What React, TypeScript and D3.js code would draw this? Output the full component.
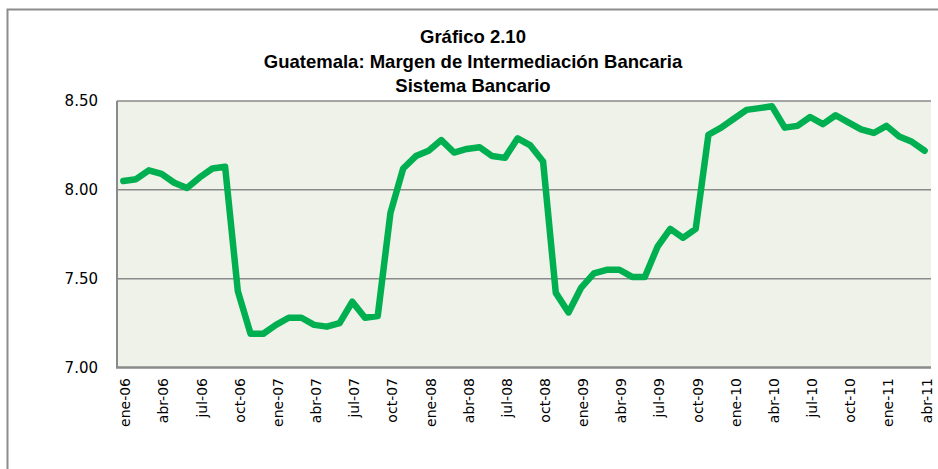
import * as d3 from "d3";

const months = ["ene", "feb", "mar", "abr", "may", "jun", "jul", "ago", "sep", "oct", "nov", "dic"];
const years = ["06", "07", "08", "09", "10", "11"];

// 64 months, ene-06 .. abr-11
const categories: string[] = years
  .flatMap((y) => months.map((m) => `${m}-${y}`))
  .slice(0, 64);

const values = [
  8.05, 8.06, 8.11, 8.09, 8.04, 8.01, 8.07, 8.12, 8.13, 7.43, 7.19, 7.19,
  7.24, 7.28, 7.28, 7.24, 7.23, 7.25, 7.37, 7.28, 7.29, 7.87, 8.12, 8.19,
  8.22, 8.28, 8.21, 8.23, 8.24, 8.19, 8.18, 8.29, 8.25, 8.16, 7.42, 7.31,
  7.45, 7.53, 7.55, 7.55, 7.51, 7.51, 7.68, 7.78, 7.73, 7.78, 8.31, 8.35,
  8.40, 8.45, 8.46, 8.47, 8.35, 8.36, 8.41, 8.37, 8.42, 8.38, 8.34, 8.32,
  8.36, 8.30, 8.27, 8.22,
];

const yTicks = [7.0, 7.5, 8.0, 8.5];

const titleLines = [
  "Gráfico 2.10",
  "Guatemala: Margen de Intermediación Bancaria",
  "Sistema Bancario",
];

const W = 938;
const H = 469;
const plot = { left: 117, right: 931, top: 101, bottom: 367.5 };

export default function App() {
  const x = d3
    .scalePoint<string>()
    .domain(categories)
    .range([plot.left, plot.right])
    .padding(0.5);
  const y = d3.scaleLinear().domain([7, 8.5]).range([plot.bottom, plot.top]);

  const line = d3
    .line<number>()
    .x((_, i) => x(categories[i]) ?? 0)
    .y((d) => y(d));

  const labelCats = categories.filter((_, i) => i % 3 === 0);

  return (
    <svg
      width={W}
      height={H}
      style={{ position: "absolute", left: 0, top: 0, background: "#fff" }}
    >
      {/* outer frame */}
      <rect x={7.5} y={9.5} width={W + 10} height={H + 10} fill="none" stroke="#8c8c8c" strokeWidth={2} />

      {titleLines.map((t, i) => (
        <text
          key={t}
          x={473}
          y={43 + i * 24.5}
          textAnchor="middle"
          fontFamily="'Liberation Sans', Arial, sans-serif"
          fontWeight="bold"
          fontSize={18.5}
          fill="#000"
        >
          {t}
        </text>
      ))}

      <rect
        x={plot.left}
        y={plot.top}
        width={plot.right - plot.left}
        height={plot.bottom - plot.top}
        fill="#eff2e9"
      />

      {yTicks.map((t) => (
        <g key={t}>
          {t > 7 && (
            <line x1={plot.left} x2={plot.right} y1={y(t)} y2={y(t)} stroke="#8a8a8a" strokeWidth={1.5} />
          )}
          <text
            x={98}
            y={y(t)}
            dy="0.35em"
            textAnchor="end"
            fontFamily="'DejaVu Sans', sans-serif"
            fontSize={15}
            fill="#000"
          >
            {t.toFixed(2)}
          </text>
        </g>
      ))}

      {/* axes */}
      <line x1={plot.left} x2={plot.left} y1={plot.top} y2={plot.bottom} stroke="#8a8a8a" strokeWidth={2} />
      <line x1={plot.left - 1} x2={plot.right} y1={plot.bottom} y2={plot.bottom} stroke="#8a8a8a" strokeWidth={2.5} />

      {labelCats.map((c) => (
        <text
          key={c}
          transform={`translate(${(x(c) ?? 0) + 2},${378}) rotate(-90)`}
          dy="0.35em"
          textAnchor="end"
          fontFamily="'DejaVu Sans', sans-serif"
          fontSize={14}
          fill="#000"
        >
          {c}
        </text>
      ))}

      <path
        d={line(values) ?? ""}
        fill="none"
        stroke="#00b050"
        strokeWidth={6.5}
        strokeLinejoin="round"
        strokeLinecap="round"
      />
    </svg>
  );
}
